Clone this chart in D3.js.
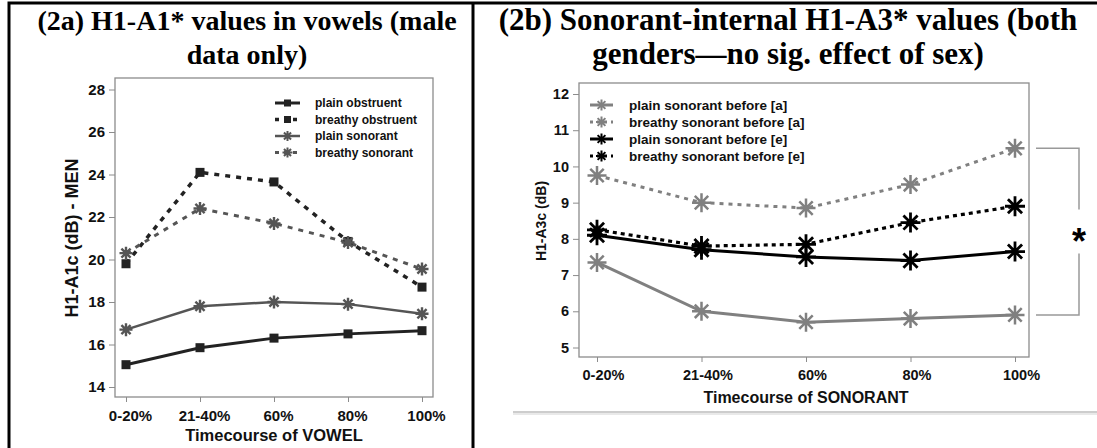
<!DOCTYPE html>
<html>
<head>
<meta charset="utf-8">
<script src="https://cdn.jsdelivr.net/npm/d3@7"></script>
<style>
  html, body { margin: 0; padding: 0; background: #fff; }
  svg text { font-family: Arial, 'Liberation Sans', sans-serif; font-weight: bold; }
  svg text.title { font-family: 'Times New Roman', 'Liberation Serif', serif; }
</style>
</head>
<body>
<svg id="chart"></svg>
<script>
const timeLabels = ['0-20%', '21-40%', '60%', '80%', '100%']

// panel (2a): H1-A1c, men
const vowelTicks = [14, 16, 18, 20, 22, 24, 26, 28]
const plainObstruent = [15.05, 15.85, 16.3, 16.5, 16.65]
const breathyObstruent = [19.8, 24.1, 23.65, 20.85, 18.7]
const plainSonorant = [16.7, 17.8, 18.0, 17.9, 17.45]
const breathySonorant = [20.3, 22.4, 21.7, 20.8, 19.55]

// panel (2b): H1-A3c, both genders
const sonorantTicks = [5, 6, 7, 8, 9, 10, 11, 12]
const plainBeforeA = [7.35, 6.0, 5.7, 5.8, 5.9]
const breathyBeforeA = [9.75, 9.0, 8.85, 9.5, 10.5]
const plainBeforeE = [8.1, 7.7, 7.5, 7.4, 7.65]
const breathyBeforeE = [8.25, 7.8, 7.85, 8.45, 8.9]
const sigBracket = [10.5, 5.9]

const W = 1097, H = 448
const svg = d3.select('#chart').attr('width', W).attr('height', H)
svg.append('rect').attr('width', W).attr('height', H).attr('fill', '#fff')

// 8-spoke asterisk
function starPath(r) {
    const d = r * Math.SQRT1_2
    return `M${-r},0L${r},0M0,${-r}L0,${r}M${-d},${-d}L${d},${d}M${-d},${d}L${d},${-d}`
}

function drawMarker(g, kind, x, y, o) {
    if (kind === 'square') {
        g.append('rect')
            .attr('x', x - o.size / 2).attr('y', y - o.size / 2)
            .attr('width', o.size).attr('height', o.size)
            .attr('fill', o.color)
    } else {
        g.append('path')
            .attr('d', starPath(o.size))
            .attr('transform', `translate(${x},${y})`)
            .attr('stroke', o.color).attr('stroke-width', o.markerWidth || 2.5)
            .attr('fill', 'none')
    }
}

function drawPanel(cfg) {
    const g = svg.append('g')
    const f = cfg.frame
    const x = d3.scalePoint().domain(timeLabels).range(cfg.xRange)
    const y = d3.scaleLinear().domain(cfg.yDomain).range(cfg.yRange)

    // frame
    g.append('rect')
        .attr('x', f.left).attr('y', f.top)
        .attr('width', f.right - f.left).attr('height', f.bottom - f.top)
        .attr('fill', 'none').attr('stroke', '#8c8c8c').attr('stroke-width', 1.3)

    // y axis
    const ya = g.append('g')
        .attr('transform', `translate(${f.left},0)`)
        .call(d3.axisLeft(y).tickValues(cfg.yTicks).tickFormat(d3.format('d')).tickSize(6).tickPadding(4))
    ya.select('.domain').remove()
    ya.selectAll('.tick line').attr('stroke', '#8c8c8c')
    ya.selectAll('.tick text').attr('fill', '#111').attr('font-size', cfg.tickFont)
        .attr('font-family', 'Arial, Liberation Sans, sans-serif').attr('font-weight', 'bold')

    // x axis
    const xa = g.append('g')
        .attr('transform', `translate(0,${f.bottom})`)
        .call(d3.axisBottom(x).tickSize(5).tickPadding(cfg.xPad))
    xa.select('.domain').remove()
    xa.selectAll('.tick line').attr('stroke', '#8c8c8c')
    xa.selectAll('.tick text').attr('fill', '#111').attr('font-size', cfg.tickFont)
        .attr('font-family', 'Arial, Liberation Sans, sans-serif').attr('font-weight', 'bold')
        .attr('dx', cfg.xLabelDx)

    // axis titles
    g.append('text')
        .attr('x', (cfg.xRange[0] + cfg.xRange[1]) / 2).attr('y', cfg.xTitleY)
        .attr('text-anchor', 'middle').attr('font-size', cfg.xTitleFont).attr('fill', '#111')
        .text(cfg.xTitle)
    g.append('text')
        .attr('transform', `translate(${cfg.yTitleX},${cfg.yTitleY}) rotate(-90)`)
        .attr('text-anchor', 'middle').attr('font-size', cfg.yTitleFont).attr('fill', '#111')
        .text(cfg.yTitle)

    // series
    const line = d3.line().x((d, i) => x(timeLabels[i])).y(d => y(d))
    cfg.series.forEach(s => {
        g.append('path')
            .datum(s.values)
            .attr('d', line)
            .attr('fill', 'none')
            .attr('stroke', s.color).attr('stroke-width', s.width)
            .attr('stroke-dasharray', s.dash || null)
    })
    cfg.series.forEach(s => {
        s.values.forEach((v, i) => drawMarker(g, s.marker, x(timeLabels[i]), y(v), {
            size: s.markerSize, color: s.color, markerWidth: s.markerWidth
        }))
    })

    // legend
    const lg = cfg.legend
    cfg.series.forEach((s, i) => {
        const ly = lg.top + i * lg.step
        g.append('line')
            .attr('x1', lg.x0).attr('x2', lg.x1).attr('y1', ly).attr('y2', ly)
            .attr('stroke', s.color).attr('stroke-width', s.width)
            .attr('stroke-dasharray', s.dash ? lg.dash : null)
        drawMarker(g, s.marker, (lg.x0 + lg.x1) / 2, ly, {
            size: s.legendSize, color: s.color, markerWidth: 2
        })
        g.append('text')
            .attr('x', lg.textX).attr('y', ly).attr('dy', '0.35em')
            .attr('font-size', lg.font).attr('fill', '#111')
            .text(s.name)
    })

    return { x, y }
}

// outer frame (top + left) and divider
svg.append('path')
    .attr('d', `M9,${H}V3H${W}`)
    .attr('fill', 'none').attr('stroke', '#000').attr('stroke-width', 3)
svg.append('line')
    .attr('x1', 473).attr('x2', 473).attr('y1', 3).attr('y2', H)
    .attr('stroke', '#000').attr('stroke-width', 3)

// titles
const titles = [
    { cx: 247, size: 28, lines: ['(2a) H1-A1* values in vowels (male', 'data only)'] },
    { cx: 788, size: 31, lines: ['(2b) Sonorant-internal H1-A3* values (both', 'genders\u2014no sig. effect of sex)'] }
]
titles.forEach(t => {
    t.lines.forEach((l, i) => {
        svg.append('text').attr('class', 'title')
            .attr('x', t.cx).attr('y', 30 + i * 34)
            .attr('text-anchor', 'middle').attr('font-size', t.size).attr('fill', '#000')
            .text(l)
    })
})

drawPanel({
    frame: { left: 115, right: 433, top: 78, bottom: 397 },
    xRange: [126, 422], yDomain: [14, 28], yRange: [387, 89.5], yTicks: vowelTicks,
    tickFont: 15, xPad: 8, xLabelDx: 4,
    xTitle: 'Timecourse of VOWEL', xTitleY: 441, xTitleFont: 16.5,
    yTitle: 'H1-A1c (dB) - MEN', yTitleX: 78, yTitleY: 238, yTitleFont: 18,
    legend: { x0: 275, x1: 300, textX: 315, top: 103, step: 16.5, font: 12, dash: '4,5' },
    series: [
        { name: 'plain obstruent', values: plainObstruent, color: '#222', width: 3, marker: 'square', markerSize: 9, legendSize: 7 },
        { name: 'breathy obstruent', values: breathyObstruent, color: '#222', width: 3.5, dash: '5,6', marker: 'square', markerSize: 9, legendSize: 7 },
        { name: 'plain sonorant', values: plainSonorant, color: '#555', width: 2.5, marker: 'star', markerSize: 6.5, markerWidth: 2.4, legendSize: 5 },
        { name: 'breathy sonorant', values: breathySonorant, color: '#555', width: 3, dash: '5,6', marker: 'star', markerSize: 6.5, markerWidth: 2.4, legendSize: 5 }
    ]
})

const right = drawPanel({
    frame: { left: 579, right: 1029, top: 83, bottom: 357 },
    xRange: [597, 1015], yDomain: [5, 12], yRange: [347.5, 94], yTicks: sonorantTicks,
    tickFont: 14.5, xPad: 8, xLabelDx: 6,
    xTitle: 'Timecourse of SONORANT', xTitleY: 403, xTitleFont: 16,
    yTitle: 'H1-A3c (dB)', yTitleX: 546, yTitleY: 221, yTitleFont: 14,
    legend: { x0: 590, x1: 613, textX: 629, top: 105, step: 17, font: 13.5, dash: '3,4' },
    series: [
        { name: 'plain sonorant before [a]', values: plainBeforeA, color: '#808080', width: 3, marker: 'star', markerSize: 9.5, markerWidth: 2.5, legendSize: 5.5 },
        { name: 'breathy sonorant before [a]', values: breathyBeforeA, color: '#808080', width: 3, dash: '4,5', marker: 'star', markerSize: 9.5, markerWidth: 2.5, legendSize: 5.5 },
        { name: 'plain sonorant before [e]', values: plainBeforeE, color: '#000', width: 3, marker: 'star', markerSize: 10, markerWidth: 2.8, legendSize: 5.5 },
        { name: 'breathy sonorant before [e]', values: breathyBeforeE, color: '#000', width: 3.2, dash: '4,4', marker: 'star', markerSize: 10, markerWidth: 2.8, legendSize: 5.5 }
    ]
})

// significance bracket
const bTop = right.y(sigBracket[0]), bBot = right.y(sigBracket[1])
const bMid = (bTop + bBot) / 2
const bx0 = 1036, bx1 = 1079
svg.append('path')
    .attr('d', `M${bx0},${bTop}H${bx1}V${bMid - 22}M${bx1},${bMid + 22}V${bBot}H${bx0}`)
    .attr('fill', 'none').attr('stroke', '#999').attr('stroke-width', 1.5)
svg.append('text')
    .attr('x', bx1).attr('y', bMid + 22)
    .attr('text-anchor', 'middle').attr('font-size', 36).attr('fill', '#000')
    .text('*')

// bottom rule under panel (2b)
svg.append('line')
    .attr('x1', 513).attr('x2', W).attr('y1', 412).attr('y2', 412)
    .attr('stroke', '#bdbdbd').attr('stroke-width', 1.5)
svg.append('line')
    .attr('x1', 513).attr('x2', W).attr('y1', 414).attr('y2', 414)
    .attr('stroke', '#e2e2e2').attr('stroke-width', 1.5)
</script>
</body>
</html>
